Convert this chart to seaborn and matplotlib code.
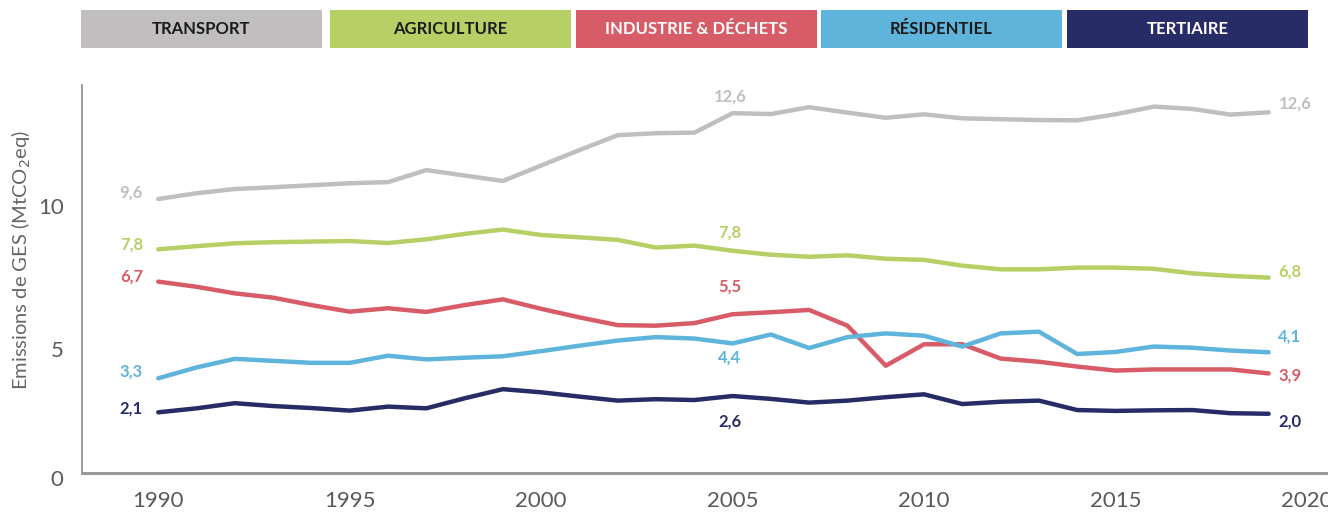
"""
plot.py
Emissions de GES par secteur (MtCO2eq), 1990-2019.
"""

import numpy as np
import pandas as pd
import matplotlib
matplotlib.use("Agg")
import matplotlib.pyplot as plt
import matplotlib.transforms as mtransforms
from matplotlib.patches import Rectangle
import seaborn as sns


YEARS = list(range(1990, 2020))

SECTORS = ["TRANSPORT", "AGRICULTURE", "INDUSTRIE & DÉCHETS", "RÉSIDENTIEL", "TERTIAIRE"]

TRANSPORT = [9.57, 9.77, 9.92, 9.98, 10.05, 10.12, 10.16, 10.58, 10.39, 10.20,
             10.74, 11.28, 11.80, 11.87, 11.89, 12.57, 12.54, 12.78, 12.59, 12.41,
             12.53, 12.39, 12.36, 12.33, 12.32, 12.53, 12.80, 12.72, 12.52, 12.60]
AGRICULTURE = [7.81, 7.92, 8.02, 8.06, 8.08, 8.10, 8.03, 8.16, 8.35, 8.50,
               8.31, 8.23, 8.14, 7.87, 7.94, 7.76, 7.62, 7.55, 7.60, 7.48,
               7.44, 7.24, 7.11, 7.11, 7.17, 7.17, 7.13, 6.97, 6.88, 6.82]
INDUSTRIE = [6.68, 6.50, 6.27, 6.12, 5.86, 5.63, 5.75, 5.62, 5.86, 6.06,
             5.73, 5.43, 5.16, 5.14, 5.23, 5.54, 5.61, 5.69, 5.14, 3.74,
             4.49, 4.49, 3.99, 3.88, 3.71, 3.57, 3.61, 3.61, 3.61, 3.47]
RESIDENTIEL = [3.30, 3.68, 3.98, 3.91, 3.84, 3.84, 4.09, 3.96, 4.02, 4.07,
               4.25, 4.44, 4.62, 4.74, 4.69, 4.52, 4.83, 4.36, 4.74, 4.87,
               4.79, 4.41, 4.87, 4.93, 4.15, 4.22, 4.41, 4.37, 4.27, 4.21]
TERTIAIRE = [2.11, 2.25, 2.43, 2.33, 2.26, 2.17, 2.31, 2.25, 2.60, 2.92,
             2.81, 2.66, 2.52, 2.57, 2.54, 2.68, 2.58, 2.45, 2.52, 2.64,
             2.74, 2.40, 2.48, 2.52, 2.19, 2.16, 2.18, 2.19, 2.08, 2.06]

COLORS = ["#c0bebf", "#b6d065", "#d75c67", "#5fb4dc", "#282c66"]
TEXT_COLORS = ["#1a1a1a", "#1a1a1a", "#ffffff", "#1a1a1a", "#ffffff"]

# annotated values: (1990, 2005, 2019)
LABELS_START = ["9,6", "7,8", "6,7", "3,3", "2,1"]
LABELS_MID = ["12,6", "7,8", "5,5", "4,4", "2,6"]
LABELS_END = ["12,6", "6,8", "3,9", "4,1", "2,0"]

# ── Data ────────────────────────────────────────────────────────────────────
series = [TRANSPORT, AGRICULTURE, INDUSTRIE, RESIDENTIEL, TERTIAIRE]
df = pd.concat(
    [pd.DataFrame({"year": YEARS, "value": vals, "sector": name})
     for name, vals in zip(SECTORS, series)],
    ignore_index=True,
)

sns.set_theme(style="white")
plt.rcParams["font.family"] = ["Lato", "DejaVu Sans"]

fig = plt.figure(figsize=(13.28, 5.13), dpi=100)
ax = fig.add_axes([0.0615, 0.0786, 0.9385, 0.7554])

sns.lineplot(
    data=df, x="year", y="value", hue="sector",
    palette=dict(zip(SECTORS, COLORS)), hue_order=SECTORS,
    linewidth=3.2, legend=False, ax=ax,
)

ax.set_xlim(1988.0, 2020.55)
ax.set_ylim(0, 13.55)
ax.set_xticks(range(1990, 2021, 5))
ax.set_yticks([0, 5, 10])
ax.set_xlabel("")
ax.set_ylabel("Emissions de GES (MtCO$_2$eq)", fontsize=14.5, color="#666666")
ax.yaxis.set_label_coords(-0.039, 0.55)
ax.tick_params(axis="both", direction="out", length=7, width=1.3, color="#111111",
               labelsize=16, labelcolor="#5a5a5a", pad=6)
for side in ("top", "right"):
    ax.spines[side].set_visible(False)
ax.spines["left"].set_color("#888888")
ax.spines["left"].set_linewidth(1.2)
ax.spines["bottom"].set_color("#999999")
ax.spines["bottom"].set_linewidth(2.2)

# y tick labels sit a little below their ticks in the original
for lab, dy in zip(ax.get_yticklabels(), [4, 14, 14]):
    lab.set_transform(lab.get_transform()
                      + mtransforms.ScaledTranslation(0, -dy / 72, fig.dpi_scale_trans))

# ── Value annotations ───────────────────────────────────────────────────────
start_dy = [4.5, 3.8, 4, 5.2, 3]
mid_dy = [12, 13, 20, -10.4, -18.5]
end_dy = [6, 4.3, -1.5, 11.2, -5.8]
j = YEARS.index(2005)
for i, vals in enumerate(series):
    ax.annotate(LABELS_START[i], (YEARS[0], vals[0]), xytext=(-11, start_dy[i]),
                textcoords="offset points", ha="right", va="center",
                fontsize=12, fontweight="bold", color=COLORS[i])
    ax.annotate(LABELS_MID[i], (YEARS[j], vals[j]), xytext=(-2, mid_dy[i]),
                textcoords="offset points", ha="center", va="center",
                fontsize=12, fontweight="bold", color=COLORS[i])
    ax.annotate(LABELS_END[i], (YEARS[-1], vals[-1]), xytext=(7, end_dy[i]),
                textcoords="offset points", ha="left", va="center",
                fontsize=12, fontweight="bold", color=COLORS[i])

# ── Legend boxes on top ─────────────────────────────────────────────────────
W, H = 1328, 513
box_x = [81, 330, 576, 821, 1067]
box_w = 241
for i, name in enumerate(SECTORS):
    x0 = box_x[i] / W
    fig.patches.append(Rectangle((x0, 1 - 47.5 / H), box_w / W, 37.5 / H,
                                 transform=fig.transFigure, facecolor=COLORS[i],
                                 edgecolor="none"))
    fig.text(x0 + box_w / W / 2, 1 - 28.5 / H, name, ha="center", va="center",
             fontsize=12, fontweight="bold", color=TEXT_COLORS[i])

fig.savefig("out.png", dpi=100)
plt.close(fig)
